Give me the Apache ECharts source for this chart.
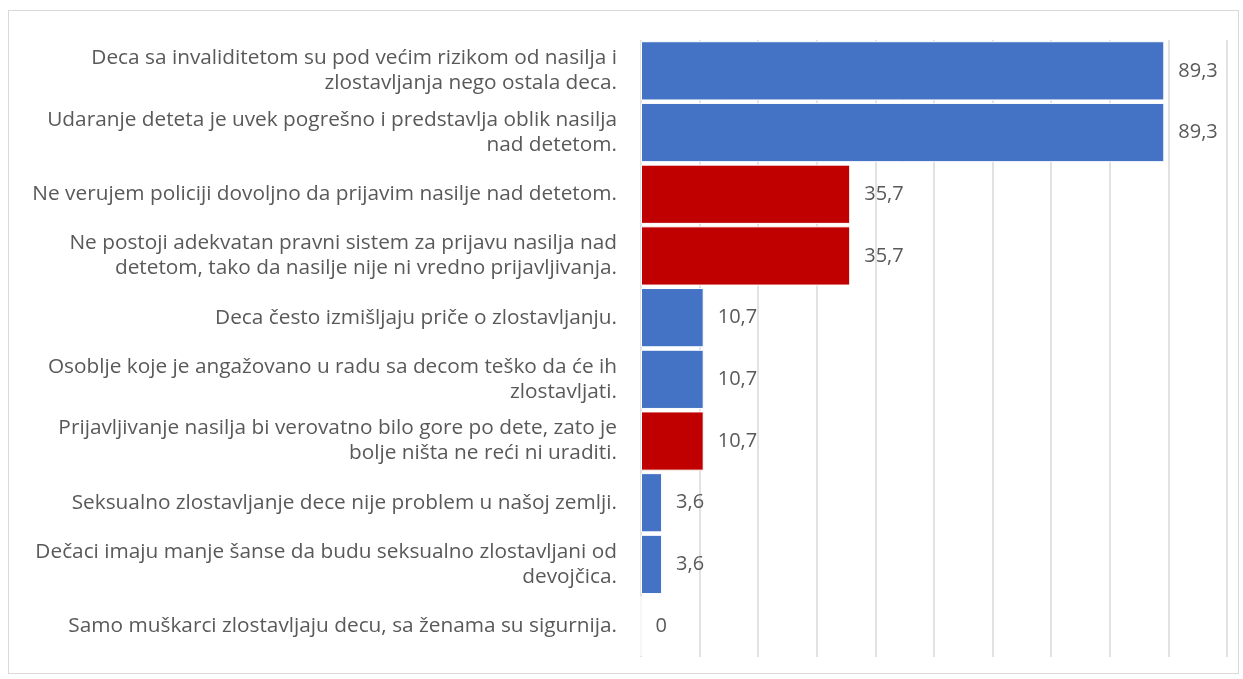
<!DOCTYPE html>
<html>
<head>
<meta charset="utf-8">
<script src="https://cdn.jsdelivr.net/npm/echarts@6/dist/echarts.min.js"></script>
<style>
  body { margin: 0; background: #fff; }
  #frame {
    position: absolute; left: 8px; top: 10px; width: 1231px; height: 664px;
    border: 1px solid #d9d9d9; box-sizing: border-box;
  }
  #chart { position: absolute; left: 0; top: 0; width: 1243px; height: 679px; }
</style>
</head>
<body>
<div id="frame"></div>
<div id="chart"></div>
<script>
const categories = [
  'Deca sa invaliditetom su pod većim rizikom od nasilja i\nzlostavljanja nego ostala deca.',
  'Udaranje deteta je uvek pogrešno i predstavlja oblik nasilja\nnad detetom.',
  'Ne verujem policiji dovoljno da prijavim nasilje nad detetom.',
  'Ne postoji adekvatan pravni sistem za prijavu nasilja nad\ndetetom, tako da nasilje nije ni vredno prijavljivanja.',
  'Deca često izmišljaju priče o zlostavljanju.',
  'Osoblje koje je angažovano u radu sa decom teško da će ih\nzlostavljati.',
  'Prijavljivanje nasilja bi verovatno bilo gore po dete, zato je\nbolje ništa ne reći ni uraditi.',
  'Seksualno zlostavljanje dece nije problem u našoj zemlji.',
  'Dečaci imaju manje šanse da budu seksualno zlostavljani od\ndevojčica.',
  'Samo muškarci zlostavljaju decu, sa ženama su sigurnija.'
];
const values = [89.3, 89.3, 35.7, 35.7, 10.7, 10.7, 10.7, 3.6, 3.6, 0];
const colors = ['#4472C4', '#4472C4', '#C00000', '#C00000', '#4472C4', '#4472C4', '#C00000', '#4472C4', '#4472C4', '#4472C4'];

const chart = echarts.init(document.getElementById('chart'));
const font = 'Open Sans, sans-serif';

chart.setOption({
  animation: false,
  grid: { left: 641, right: 16, top: 40, bottom: 22, containLabel: false },
  xAxis: {
    type: 'value',
    min: 0,
    max: 100,
    interval: 10,
    axisLabel: { show: false },
    axisLine: { show: false },
    axisTick: { show: false },
    splitLine: { show: true, lineStyle: { color: '#d9d9d9', width: 1.5 } }
  },
  yAxis: {
    type: 'category',
    inverse: true,
    data: categories,
    axisLine: { show: false },
    axisTick: { show: false },
    axisLabel: {
      color: '#595959',
      fontSize: 20.8,
      fontFamily: font,
      lineHeight: 25,
      align: 'right',
      margin: 24
    }
  },
  series: [{
    type: 'bar',
    data: values.map((v, i) => ({ value: v, itemStyle: { color: colors[i] } })),
    barCategoryGap: '4%',
    itemStyle: { borderColor: '#fff', borderWidth: 1 },
    label: {
      show: true,
      position: 'right',
      distance: 14,
      color: '#595959',
      fontSize: 20,
      fontFamily: font,
      formatter: p => String(p.value).replace('.', ',')
    }
  }]
});
</script>
</body>
</html>
